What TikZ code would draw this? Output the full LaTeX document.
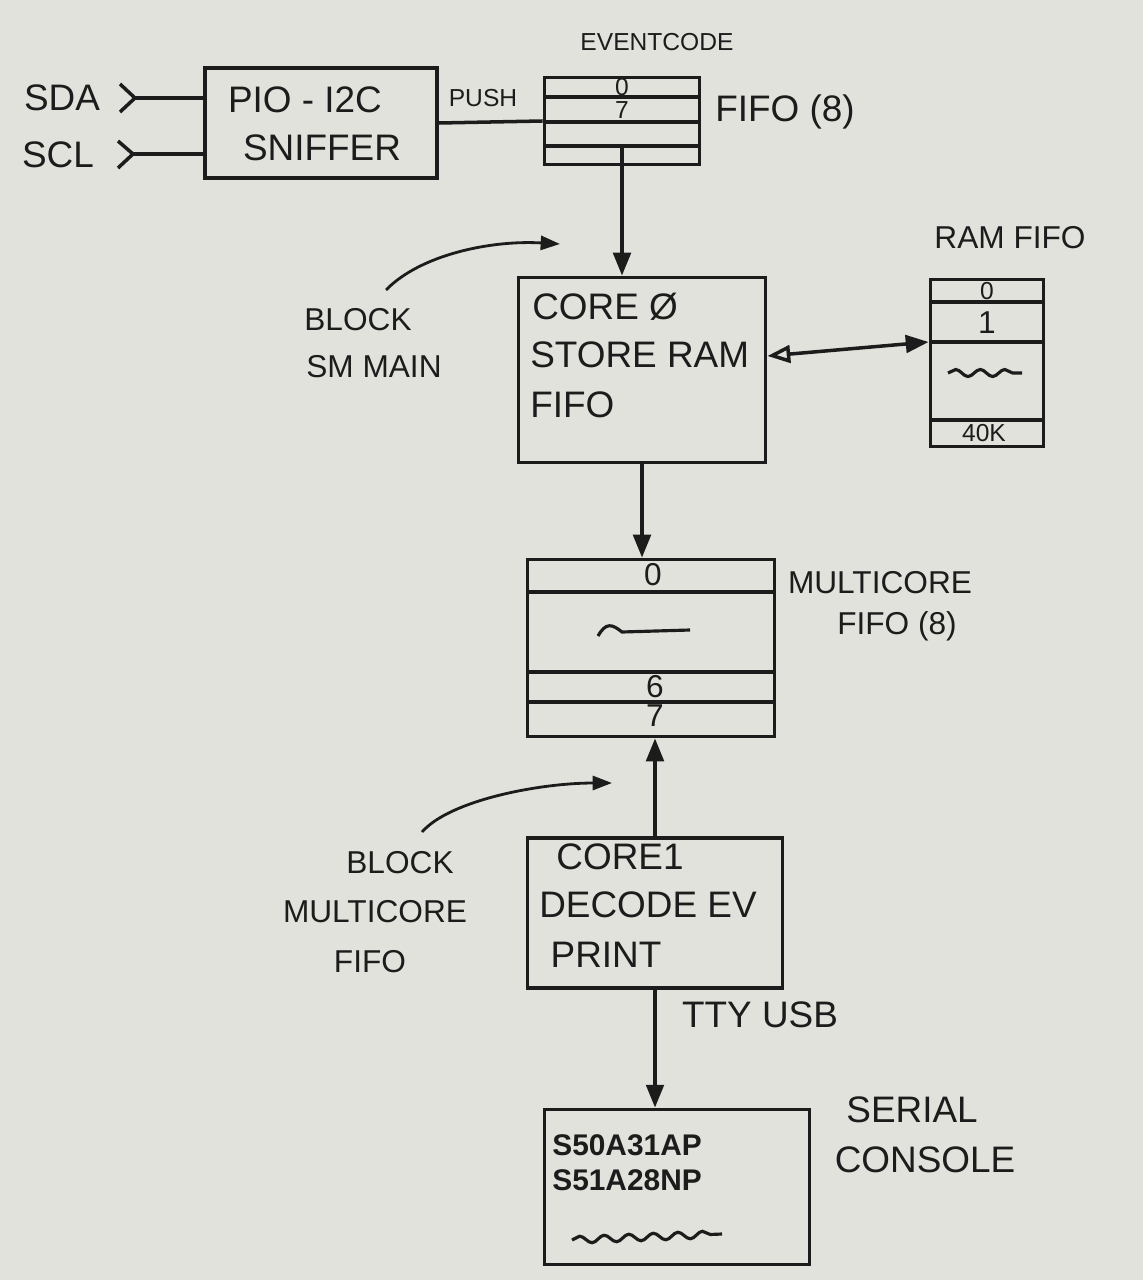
\documentclass[tikz,border=0pt]{standalone}
\usepackage{fontspec}
\setmainfont{Liberation Sans}
\usetikzlibrary{arrows.meta,decorations.pathmorphing,calc}
\definecolor{paper}{RGB}{226,226,221}
\definecolor{ink}{RGB}{28,28,28}
\begin{document}
\begin{tikzpicture}[x=0.02cm,y=-0.02cm,
  box/.style={draw=ink, line width=2.2pt, inner sep=0pt},
  rowline/.style={draw=ink, line width=2pt},
  big/.style={text=ink, inner sep=0pt, font=\fontsize{21}{25}\selectfont},
  mid/.style={text=ink, inner sep=0pt, font=\fontsize{18}{22}\selectfont},
  small/.style={text=ink, inner sep=0pt, font=\fontsize{14}{17}\selectfont},
  arr/.style={draw=ink, line width=2pt, -{Triangle[length=13pt,width=10pt]}},
  thin/.style={draw=ink, line width=1.6pt, -{Triangle[length=11pt,width=8pt]}},
  wave/.style={draw=ink, line width=1.8pt, decorate, decoration={snake, amplitude=2pt, segment length=14pt}}]
\useasboundingbox (0,0) rectangle (1143,1280);
\fill[paper] (0,0) rectangle (1143,1280);

% boxes
\node[box, minimum width=4.64cm, minimum height=2.2cm] (sniffer) at (321,123) {};
\node[box, minimum width=3.1cm, minimum height=1.74cm] (fifo) at (622,121) {};
\node[box, minimum width=4.94cm, minimum height=3.7cm] (core0) at (642,370) {};
\node[box, minimum width=2.26cm, minimum height=3.34cm] (ram) at (987,363) {};
\node[box, minimum width=4.94cm, minimum height=3.54cm] (mfifo) at (651,648) {};
\node[box, minimum width=5.1cm, minimum height=3.0cm] (core1) at (655,913) {};
\node[box, minimum width=5.3cm, minimum height=3.1cm] (serial) at (677,1187) {};

% fifo rows
\draw[rowline] (545,97) -- (700,97);
\draw[rowline] (545,122) -- (700,122);
\draw[rowline] (545,146) -- (700,146);
\node[small] (f0) at (622,87) {0};
\node[small] (f7) at (622,110) {7};

% ram rows
\draw[rowline] (930,302) -- (1043,302);
\draw[rowline] (930,342) -- (1043,342);
\draw[rowline] (930,420) -- (1043,420);
\node[small] (r0) at (987,291) {0};
\node[mid] (r1) at (987,323) {1};
\draw[wave] (948,373) -- (1022,373);
\node[small] (r40) at (984,433) {40K};

% multicore fifo rows
\draw[rowline] (528,592) -- (775,592);
\draw[rowline] (528,672) -- (775,672);
\draw[rowline] (528,702) -- (775,702);
\node[mid] (m0) at (653,575) {0};
\draw[ink, line width=1.8pt] (598,636) .. controls (606,622) and (612,624) .. (622,632) -- (690,630);
\node[mid] (m6) at (655,687) {6};
\node[mid] (m7) at (655,716) {7};

% texts
\node[small] (evlbl) at (657,42) {EVENTCODE};
\node[big] (sda) at (62,98) {SDA};
\node[big] (scl) at (58,155) {SCL};
\node[big] (snt1) at (305,100) {PIO - I2C};
\node[big] (snt2) at (322,148) {SNIFFER};
\node[small] (push) at (483,98) {PUSH};
\node[big] (fifolbl) at (785,112) {FIFO (8)};
\node[big, anchor=west] (c0a) at (532,307) {CORE Ø};
\node[big, anchor=west] (c0b) at (530,355) {STORE RAM};
\node[big, anchor=west] (c0c) at (530,405) {FIFO};
\node[mid] (ramlbl) at (1010,238) {RAM FIFO};
\node[mid] (blk1a) at (358,320) {BLOCK};
\node[mid] (blk1b) at (374,367) {SM MAIN};
\node[mid] (mclbl1) at (880,583) {MULTICORE};
\node[mid] (mclbl2) at (897,626) {FIFO (8)};
\node[mid] (blk2a) at (400,863) {BLOCK};
\node[mid] (blk2b) at (375,912) {MULTICORE};
\node[mid] (blk2c) at (370,962) {FIFO};
\node[big] (c1a) at (620,857) {CORE1};
\node[big] (c1b) at (648,905) {DECODE EV};
\node[big] (c1c) at (606,955) {PRINT};
\node[big] (tty) at (760,1015) {TTY USB};
\node[mid, font=\bfseries\fontsize{17}{20}\selectfont, anchor=west] (s1) at (552,1145) {S50A31AP};
\node[mid, font=\bfseries\fontsize{17}{20}\selectfont, anchor=west] (s2) at (552,1180) {S51A28NP};
\draw[wave] (572,1240) -- (722,1234);
\node[big] (sc1) at (912,1110) {SERIAL};
\node[big] (sc2) at (925,1160) {CONSOLE};

% input chevrons and lines
\coordinate (sdain) at (135,98);
\coordinate (sclin) at (133,154);
\draw[ink, line width=2pt, line join=round] (120,84) -- (sdain) -- (120,112);
\draw[ink, line width=2pt, line join=round] (118,141) -- (sclin) -- (118,168);
\draw[ink, line width=2pt] (sdain) -- (sdain -| sniffer.west);
\draw[ink, line width=2pt] (sclin) -- (sclin -| sniffer.west);

% connectors
\draw[ink, line width=2pt] (sniffer.east) -- (fifo.west);
\draw[arr] ($(fifo.south)+(0,-18)$) -- (core0.north -| fifo.south);
\draw[arr] (core0.south) -- (core0.south |- mfifo.north);
\draw[arr] (core1.north) -- (core1.north |- mfifo.south);
\draw[arr] (core1.south) -- (core1.south |- serial.north);
\draw[draw=ink, line width=2pt, {Triangle[open,length=13pt,width=10pt]}-{Triangle[length=13pt,width=10pt]}] ($(core0.east)+(0,-14)$) -- ($(ram.west)+(0,-21)$);

% block annotation arrows
\coordinate (b1s) at (386,290);
\coordinate (b1e) at (560,244);
\draw[thin] (b1s) .. controls (420,255) and (490,240) .. (b1e);
\coordinate (b2s) at (422,832);
\coordinate (b2e) at (612,783);
\draw[thin] (b2s) .. controls (450,800) and (540,783) .. (b2e);
\end{tikzpicture}
\end{document}
